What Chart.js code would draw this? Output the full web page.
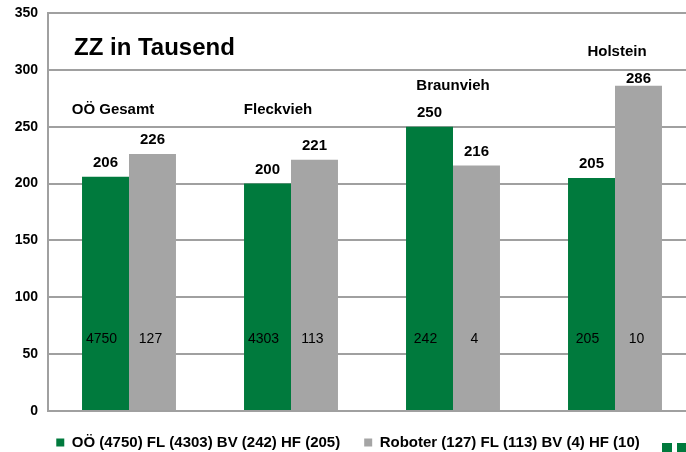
<!DOCTYPE html>
<html>
<head>
<meta charset="utf-8">
<script src="https://cdn.jsdelivr.net/npm/chart.js@4.4.0/dist/chart.umd.min.js"></script>
<style>
html, body { margin: 0; padding: 0; background: #fff; overflow: hidden; width: 686px; height: 452px; }
#wrap { position: relative; width: 700px; height: 452px; }
.sq { position: absolute; width: 10px; height: 9px; background: #007a3d; top: 443px; }
</style>
</head>
<body>
<div id="wrap"><canvas id="zzChart" width="700" height="452"></canvas></div>
<div class="sq" style="left:662px"></div>
<div class="sq" style="left:677px"></div>
<script>
// Daten
const groups = ['OÖ Gesamt', 'Fleckvieh', 'Braunvieh', 'Holstein'];
const zzAll = [206, 200, 250, 205];
const zzRobot = [226, 221, 216, 286];
const countAll = [4750, 4303, 242, 205];
const countRobot = [127, 113, 4, 10];
const yTicks = [0, 50, 100, 150, 200, 250, 300, 350];
const seriesNames = ['OÖ (4750) FL (4303) BV (242) HF (205)', 'Roboter (127) FL (113) BV (4) HF (10)'];
const chartTitle = 'ZZ in Tausend';

const GREEN = '#007a3d';
const GREY = '#a5a5a5';
const FONT = 'Liberation Sans, Arial, sans-serif';

// Beschriftungen: Titel, Werte über den Balken, Anzahl im Balken, Gruppennamen
const labelPlugin = {
    id: 'zzLabels',
    afterDatasetsDraw(chart, args, opts) {
        const ctx = chart.ctx;
        const y = chart.scales.y;
        const metaA = chart.getDatasetMeta(0);
        const metaR = chart.getDatasetMeta(1);
        ctx.save();
        ctx.fillStyle = '#000';
        ctx.textAlign = 'center';
        ctx.textBaseline = 'middle';

        // Werte oben (nicht höher als labelCeil)
        ctx.font = 'bold 15px ' + FONT;
        const ceil = y.getPixelForValue(opts.labelCeil);
        [metaA, metaR].forEach((meta, di) => {
            const vals = di === 0 ? zzAll : zzRobot;
            meta.data.forEach((bar, i) => {
                ctx.fillText(vals[i], bar.x, Math.max(bar.y - 14, ceil));
            });
        });

        // Anzahl im Balken
        ctx.font = '14px ' + FONT;
        const yc = y.getPixelForValue(opts.countLevel);
        metaA.data.forEach((bar, i) => ctx.fillText(countAll[i], bar.x - 4, yc));
        metaR.data.forEach((bar, i) => ctx.fillText(countRobot[i], bar.x - 2, yc));

        // Gruppennamen
        ctx.font = 'bold 15px ' + FONT;
        groups.forEach((g, i) => {
            const a = opts.groupAnchors[i];
            const cx = (metaA.data[i].x + metaR.data[i].x) / 2;
            ctx.fillText(g, cx + a.dx, y.getPixelForValue(a.v));
        });

        // Titel
        ctx.textAlign = 'left';
        ctx.font = 'bold 24px ' + FONT;
        ctx.fillText(chartTitle, 74, 48);
        ctx.restore();
    }
};

new Chart(document.getElementById('zzChart').getContext('2d'), {
    type: 'bar',
    data: {
        labels: groups,
        datasets: [
            { label: seriesNames[0], data: zzAll, backgroundColor: GREEN },
            { label: seriesNames[1], data: zzRobot, backgroundColor: GREY }
        ]
    },
    options: {
        responsive: false,
        animation: false,
        devicePixelRatio: 1,
        categoryPercentage: 0.58,
        barPercentage: 1.0,
        layout: { padding: { top: 13, right: 4, left: 0, bottom: -8 } },
        plugins: {
            tooltip: { enabled: false },
            zzLabels: {
                countLevel: 63,
                labelCeil: 292,
                groupAnchors: [
                    { dx: -16, v: 265 },
                    { dx: -13, v: 265 },
                    { dx: 0, v: 286 },
                    { dx: 2, v: 316 }
                ]
            },
            legend: {
                position: 'bottom',
                labels: {
                    boxWidth: 8,
                    boxHeight: 8,
                    padding: 24,
                    color: '#000',
                    font: { family: FONT, size: 15, weight: 'bold' }
                }
            }
        },
        scales: {
            x: {
                afterFit: scale => { scale.height = 0; },
                grid: { display: false, drawTicks: false },
                border: { display: false },
                ticks: { display: false }
            },
            y: {
                min: 0,
                max: 350,
                afterBuildTicks: scale => { scale.ticks = yTicks.map(v => ({ value: v })); },
                afterFit: scale => {
                    scale.width = 48;
                    scale.paddingTop = 0;
                    scale.paddingBottom = 9;
                },
                grid: { color: '#a0a0a0', lineWidth: 2, drawTicks: false },
                border: { display: true, color: '#a0a0a0', width: 2 },
                ticks: {
                    padding: 10,
                    color: '#000',
                    font: { family: FONT, size: 14, weight: 'bold' }
                }
            }
        }
    },
    plugins: [labelPlugin]
});
</script>
</body>
</html>
